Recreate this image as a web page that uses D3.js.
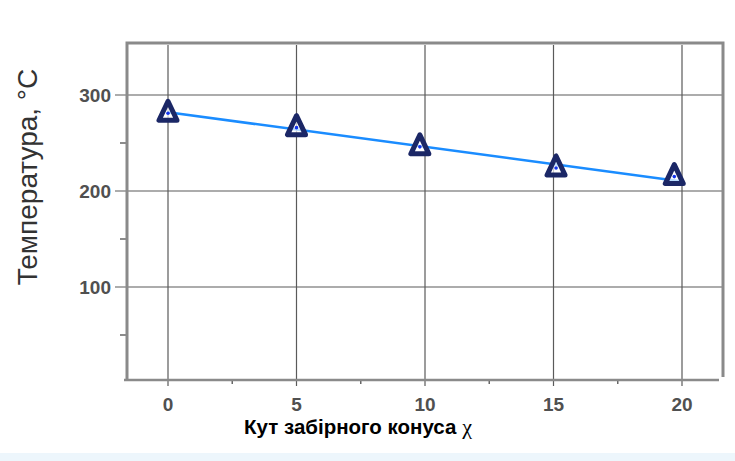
<!DOCTYPE html>
<html>
<head>
<meta charset="utf-8">
<script src="https://cdn.jsdelivr.net/npm/d3@7"></script>
<style>
  body { margin: 0; background: #fff; }
  svg { display: block; }
</style>
</head>
<body>
<div id="chart"></div>
<script>
// data
let angles = [0, 5, 9.8, 15.1, 19.7];
let temps = [281, 266, 246, 224, 215];
let fitAngles = [0, 20];
let fitTemps = [282, 210];
let xTicks = [0, 5, 10, 15, 20];
let xMinorTicks = [2.5, 7.5, 12.5, 17.5];
let yTicks = [100, 200, 300];
let yMinorTicks = [50, 150, 250];

let width = 735;
let height = 461;

// plot frame
let plotLeft = 127, plotRight = 723, plotTop = 43, plotBottom = 380;

let x = d3.scaleLinear().domain([0, 20]).range([168, 682]);
let y = d3.scaleLinear().domain([100, 300]).range([287, 95]);

let svg = d3.select("#chart")
    .append("svg")
    .attr("width", width)
    .attr("height", height);

// light band at the very bottom
svg.append("rect")
    .attr("x", 0).attr("y", 453)
    .attr("width", width).attr("height", 8)
    .attr("fill", "#edf6fc");

// grid lines
svg.selectAll(".vgrid")
    .data(xTicks)
    .enter()
    .append("line")
    .attr("x1", d => x(d)).attr("x2", d => x(d))
    .attr("y1", plotTop + 2).attr("y2", plotBottom + 6)
    .attr("stroke", "#5a5a5a")
    .attr("stroke-width", 1.2);

svg.selectAll(".hgrid")
    .data(yTicks)
    .enter()
    .append("line")
    .attr("x1", plotLeft - 12).attr("x2", plotRight)
    .attr("y1", d => y(d)).attr("y2", d => y(d))
    .attr("stroke", "#5a5a5a")
    .attr("stroke-width", 1.2);

// minor ticks
svg.selectAll(".xminor")
    .data(xMinorTicks)
    .enter()
    .append("line")
    .attr("x1", d => x(d)).attr("x2", d => x(d))
    .attr("y1", plotBottom).attr("y2", plotBottom + 4)
    .attr("stroke", "#666")
    .attr("stroke-width", 1.5);

svg.selectAll(".yminor")
    .data(yMinorTicks)
    .enter()
    .append("line")
    .attr("x1", plotLeft - 7).attr("x2", plotLeft)
    .attr("y1", d => y(d)).attr("y2", d => y(d))
    .attr("stroke", "#666")
    .attr("stroke-width", 1.5);

// frame: left, top, right, bottom
svg.append("path")
    .attr("d", `M${plotLeft},${plotBottom} L${plotLeft},${plotTop} L${plotRight},${plotTop} L${plotRight},${plotBottom - 3}`)
    .attr("fill", "none")
    .attr("stroke", "#8a8a8a")
    .attr("stroke-width", 3);

svg.append("line")
    .attr("x1", plotLeft - 3).attr("x2", plotRight - 4)
    .attr("y1", plotBottom).attr("y2", plotBottom)
    .attr("stroke", "#8a8a8a")
    .attr("stroke-width", 2.5);

// tick labels
svg.selectAll(".ylab")
    .data(yTicks)
    .enter()
    .append("text")
    .attr("x", 111)
    .attr("y", d => y(d))
    .attr("dy", "0.35em")
    .attr("text-anchor", "end")
    .attr("font-family", "Liberation Sans, Arial, sans-serif")
    .attr("font-weight", "bold")
    .attr("font-size", 19)
    .attr("fill", "#505050")
    .text(d => d);

svg.selectAll(".xlab")
    .data(xTicks)
    .enter()
    .append("text")
    .attr("x", d => x(d))
    .attr("y", 404)
    .attr("dy", "0.35em")
    .attr("text-anchor", "middle")
    .attr("font-family", "Liberation Sans, Arial, sans-serif")
    .attr("font-weight", "bold")
    .attr("font-size", 19)
    .attr("fill", "#505050")
    .text(d => d);

// axis titles
let xTitle = svg.append("text")
    .attr("x", 358)
    .attr("y", 434)
    .attr("text-anchor", "middle")
    .attr("font-family", "Liberation Sans, Arial, sans-serif")
    .attr("font-weight", "bold")
    .attr("font-size", 20.5)
    .attr("fill", "#000");
xTitle.append("tspan").text("Кут забірного конуса ");
xTitle.append("tspan")
    .attr("font-family", "Liberation Serif, serif")
    .attr("font-weight", "normal")
    .attr("font-size", 22)
    .text("χ");

svg.append("text")
    .attr("transform", "translate(37,177) rotate(-90)")
    .attr("text-anchor", "middle")
    .attr("font-family", "Liberation Sans, Arial, sans-serif")
    .attr("font-size", 28)
    .attr("fill", "#333")
    .text("Температура, °С");

// trend line
let line = d3.line()
    .x(d => x(d[0]))
    .y(d => y(d[1]));

svg.append("path")
    .datum(d3.zip(fitAngles, fitTemps))
    .attr("d", line)
    .attr("fill", "none")
    .attr("stroke", "#1a8cff")
    .attr("stroke-width", 2.5);

// triangle markers
let tri = "M0,-12 L-9,7 L9,7 Z";
let points = svg.selectAll(".pt")
    .data(d3.zip(angles, temps))
    .enter()
    .append("g")
    .attr("transform", d => `translate(${x(d[0])},${y(d[1])})`);

points.append("path")
    .attr("d", tri)
    .attr("fill", "#fff")
    .attr("fill-opacity", 0.7)
    .attr("stroke", "#1b2766")
    .attr("stroke-width", 5)
    .attr("stroke-linejoin", "round");

points.append("circle")
    .attr("r", 1.8)
    .attr("fill", "#1133ee");
</script>
</body>
</html>
